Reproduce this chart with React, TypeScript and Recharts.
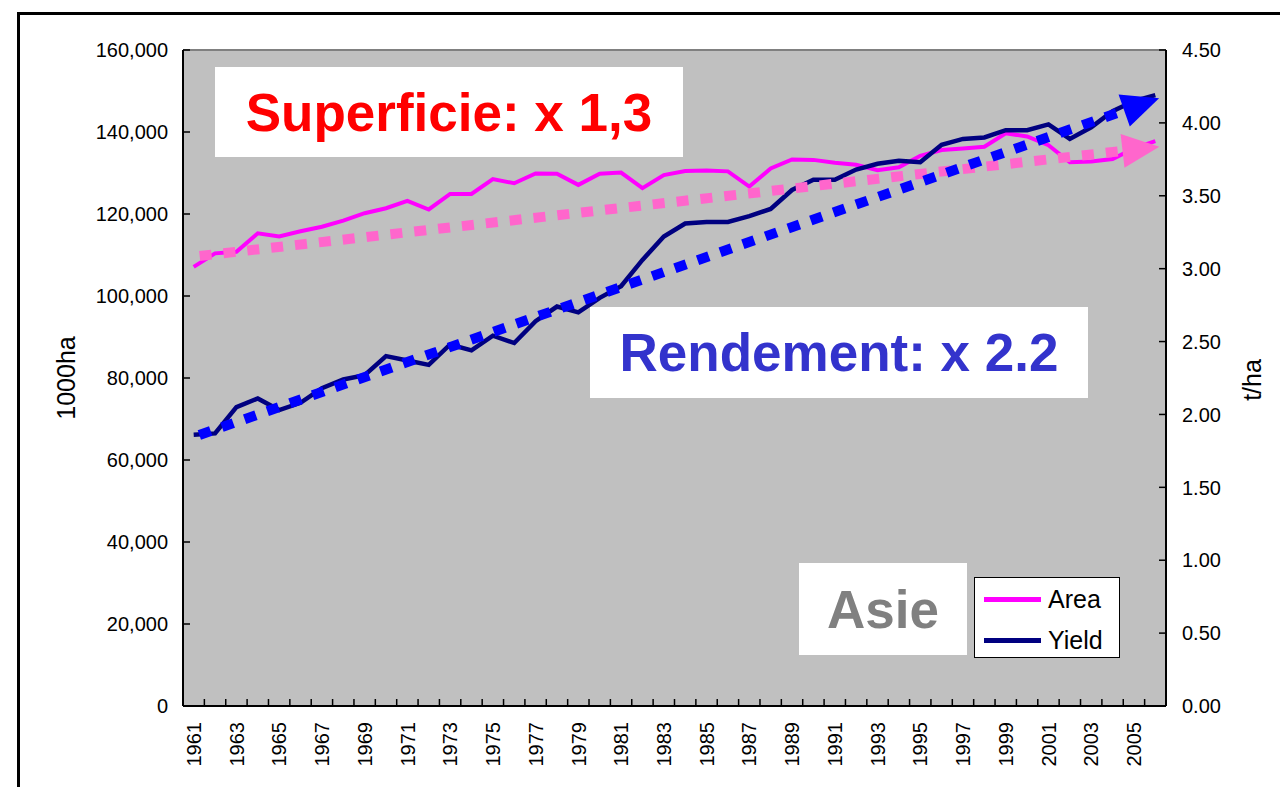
import React from 'react';
import {
  LineChart, Line, XAxis, YAxis, CartesianGrid, ReferenceLine, Legend
} from 'recharts';

const years = [
  '1961', '1962', '1963', '1964', '1965', '1966', '1967', '1968', '1969', '1970',
  '1971', '1972', '1973', '1974', '1975', '1976', '1977', '1978', '1979', '1980',
  '1981', '1982', '1983', '1984', '1985', '1986', '1987', '1988', '1989', '1990',
  '1991', '1992', '1993', '1994', '1995', '1996', '1997', '1998', '1999', '2000',
  '2001', '2002', '2003', '2004', '2005', '2006',
];

// superficie, 1000ha (axe gauche)
const areaValues = [
  107100, 110400, 110800, 115300, 114500, 115800, 116900, 118400, 120200, 121400,
  123200, 121100, 124900, 124900, 128500, 127500, 129900, 129800, 127100, 129800,
  130100, 126300, 129500, 130500, 130600, 130400, 126700, 131100, 133300, 133200,
  132500, 132000, 130700, 131400, 134200, 135600, 136000, 136400, 139700, 138900,
  136800, 132600, 132800, 133400, 136000, 137800,
];

// rendement, t/ha (axe droit)
const yieldValues = [
  1.86, 1.87, 2.05, 2.11, 2.03, 2.08, 2.18, 2.24, 2.27, 2.40,
  2.37, 2.34, 2.48, 2.44, 2.54, 2.49, 2.64, 2.74, 2.70, 2.80,
  2.88, 3.06, 3.22, 3.31, 3.32, 3.32, 3.36, 3.41, 3.54, 3.61,
  3.61, 3.68, 3.72, 3.74, 3.73, 3.85, 3.89, 3.90, 3.95, 3.95,
  3.99, 3.89, 3.97, 4.08, 4.15, 4.19,
];

// tendances (debut / fin)
const trendYears = ['1961', '2006'];
const areaTrend = [109600, 136300];
const yieldTrend = [1.845, 4.16];

const areaTicks = [0, 20000, 40000, 60000, 80000, 100000, 120000, 140000, 160000];
const yieldTicks = [0, 0.5, 1, 1.5, 2, 2.5, 3, 3.5, 4, 4.5];

const legendItems = [
  { name: 'Area', color: '#FF00FF' },
  { name: 'Yield', color: '#000080' },
];

const data = years.map((year, i) => ({
  year,
  area: areaValues[i],
  yield: yieldValues[i],
}));

const FONT = '"Liberation Sans", Arial, sans-serif';

const LeftTick = (props: any) => {
  const { x, y, payload } = props;
  return (
    <g>
      <line x1={x} x2={x + 7} y1={y} y2={y} stroke="#000" strokeWidth={1.5} />
      <text x={x - 15} y={y} dy="0.36em" textAnchor="end" fontSize={20} fontFamily={FONT} fill="#000">
        {payload.value.toLocaleString('en-US')}
      </text>
    </g>
  );
};

const RightTick = (props: any) => {
  const { x, y, payload } = props;
  return (
    <g>
      <line x1={x - 7} x2={x} y1={y} y2={y} stroke="#000" strokeWidth={1.5} />
      <text x={x + 16} y={y} dy="0.36em" textAnchor="start" fontSize={20} fontFamily={FONT} fill="#000">
        {payload.value.toFixed(2)}
      </text>
    </g>
  );
};

const YearTick = (props: any) => {
  const { x, y, payload, index } = props;
  const half = payload.offset || 10.68;
  const bx = x - half;
  const ty = y + 16;
  return (
    <g>
      <line x1={bx} x2={bx} y1={y} y2={y - 7} stroke="#000" strokeWidth={1.5} />
      {index % 2 === 0 && (
        <text
          x={x}
          y={ty}
          dy="0.36em"
          textAnchor="end"
          fontSize={20}
          fontFamily={FONT}
          fill="#000"
          transform={`rotate(-90, ${x}, ${ty})`}
        >
          {payload.value}
        </text>
      )}
    </g>
  );
};

const trendShape = (color: string) => (props: any) => {
  const { x1, y1, x2, y2 } = props;
  const dx = x2 - x1;
  const dy = y2 - y1;
  const len = Math.hypot(dx, dy) || 1;
  const ux = dx / len;
  const uy = dy / len;
  const tipX = x2 + ux * 4;
  const tipY = y2 + uy * 4;
  const head = 37;
  const half = 17;
  const bx = tipX - ux * head;
  const by = tipY - uy * head;
  const px = -uy * half;
  const py = ux * half;
  return (
    <g>
      <line
        x1={x1 + ux * 6}
        y1={y1 + uy * 6}
        x2={bx + ux * 3}
        y2={by + uy * 3}
        stroke={color}
        strokeWidth={10}
        strokeDasharray="12 12"
      />
      <polygon points={`${tipX},${tipY} ${bx + px},${by + py} ${bx - px},${by - py}`} fill={color} />
    </g>
  );
};

const renderLegend = () => (
  <div
    style={{
      position: 'relative',
      width: 146,
      height: 81,
      background: '#fff',
      border: '1.5px solid #000',
      boxSizing: 'border-box',
      fontFamily: FONT,
    }}
  >
    {legendItems.map((item, i) => (
      <div key={item.name} style={{ position: 'absolute', left: 9, top: 6 + i * 41, height: 30, display: 'flex', alignItems: 'center' }}>
        <div style={{ width: 57, height: 5, background: item.color }} />
        <span style={{ marginLeft: 7, fontSize: 25, color: '#000', lineHeight: '30px' }}>{item.name}</span>
      </div>
    ))}
  </div>
);

const boxStyle = (left: number, top: number, width: number, height: number): React.CSSProperties => ({
  position: 'absolute',
  left,
  top,
  width,
  height,
  background: '#fff',
  display: 'flex',
  alignItems: 'center',
  justifyContent: 'center',
  fontFamily: FONT,
  fontWeight: 'bold',
  fontSize: 53,
});

const axisTitle = (left: number, top: number): React.CSSProperties => ({
  position: 'absolute',
  left,
  top,
  transform: 'translate(-50%, -50%) rotate(-90deg)',
  fontFamily: FONT,
  fontSize: 25,
  color: '#000',
  whiteSpace: 'nowrap',
});

export default function App() {
  return (
    <div style={{ position: 'absolute', left: 0, top: 0, width: 1280, height: 787, overflow: 'hidden', background: '#fff' }}>
      <div style={{ position: 'absolute', left: 17, top: 12, width: 1300, height: 800, border: '3px solid #000' }} />
      <div style={{ position: 'absolute', left: 0, top: 0 }}>
        <LineChart
          width={1280}
          height={787}
          data={data}
          margin={{ top: 50, right: 14, bottom: 21, left: 83 }}
          style={{ fontFamily: FONT }}
        >
          <CartesianGrid yAxisId="area" fill="#C0C0C0" stroke="none" horizontal={false} vertical={false} />
          <XAxis
            dataKey="year"
            scale="band"
            interval={0}
            height={60}
            tickSize={0}
            tickMargin={0}
            tickLine={false}
            axisLine={{ stroke: '#000', strokeWidth: 2 }}
            tick={<YearTick />}
          />
          <YAxis
            yAxisId="area"
            domain={[0, 160000]}
            ticks={areaTicks}
            width={100}
            tickSize={0}
            tickMargin={0}
            tickLine={false}
            axisLine={{ stroke: '#000', strokeWidth: 2 }}
            tick={<LeftTick />}
          />
          <YAxis
            yAxisId="yield"
            orientation="right"
            domain={[0, 4.5]}
            ticks={yieldTicks}
            width={100}
            tickSize={0}
            tickMargin={0}
            tickLine={false}
            axisLine={{ stroke: '#000', strokeWidth: 2 }}
            tick={<RightTick />}
          />
          <ReferenceLine yAxisId="area" y={160000} stroke="#808080" strokeWidth={2} />
          <Line
            yAxisId="area"
            type="linear"
            dataKey="area"
            name="Area"
            stroke="#FF00FF"
            strokeWidth={4}
            dot={false}
            isAnimationActive={false}
          />
          <Line
            yAxisId="yield"
            type="linear"
            dataKey="yield"
            name="Yield"
            stroke="#000080"
            strokeWidth={4.5}
            dot={false}
            isAnimationActive={false}
          />
          <ReferenceLine
            yAxisId="area"
            segment={[
              { x: trendYears[0], y: areaTrend[0] },
              { x: trendYears[1], y: areaTrend[1] },
            ]}
            shape={trendShape('#FF66CC')}
          />
          <ReferenceLine
            yAxisId="yield"
            segment={[
              { x: trendYears[0], y: yieldTrend[0] },
              { x: trendYears[1], y: yieldTrend[1] },
            ]}
            shape={trendShape('#0000FF')}
          />
          <Legend
            layout="vertical"
            align="center"
            verticalAlign="middle"
            content={renderLegend}
            wrapperStyle={{ position: 'absolute', left: 974, top: 577, width: 146, height: 81 }}
          />
        </LineChart>
      </div>
      <div style={{ ...boxStyle(215, 67, 468, 90), color: '#FF0000' }}>Superficie: x 1,3</div>
      <div style={{ ...boxStyle(590, 307, 498, 91), color: '#3333CC' }}>Rendement: x 2.2</div>
      <div style={{ ...boxStyle(799, 563, 168, 92), color: '#808080' }}>Asie</div>
      <div style={axisTitle(66, 378)}>1000ha</div>
      <div style={axisTitle(1252, 380)}>t/ha</div>
    </div>
  );
}
